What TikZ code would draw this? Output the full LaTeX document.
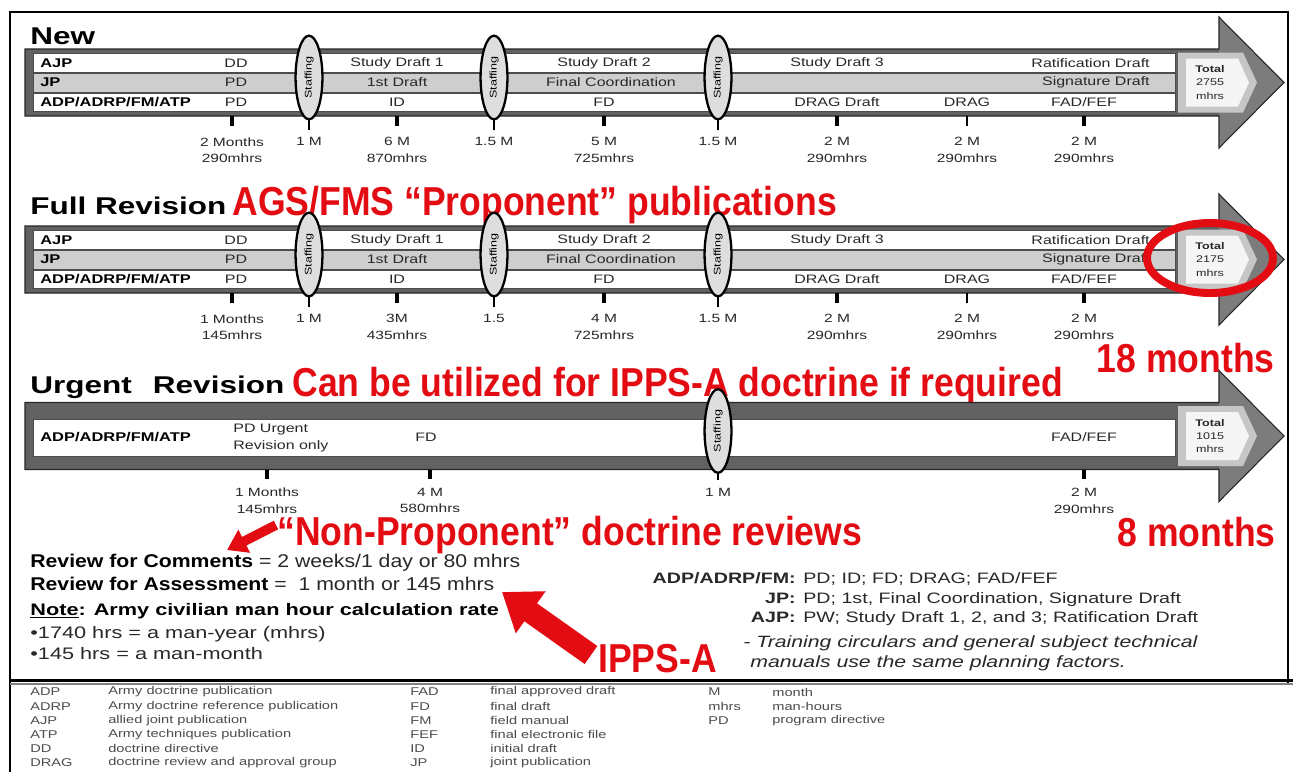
\documentclass[tikz,border=0pt]{standalone}
\usepackage{fontspec}
\setmainfont[FakeStretch=1.3]{Liberation Sans}
\newfontfamily\bodyfont[FakeStretch=1.15]{Liberation Sans}
\newfontfamily\redfont[FakeStretch=0.88]{Liberation Sans}
\usetikzlibrary{arrows.meta,shapes.geometric}
\definecolor{shaftgray}{RGB}{98,98,98}
\definecolor{headgray}{RGB}{124,124,124}
\definecolor{rowgray}{RGB}{206,206,206}
\definecolor{staffgray}{RGB}{222,222,222}
\definecolor{alertred}{RGB}{226,12,18}
\definecolor{inkgray}{RGB}{40,40,40}

\tikzset{
  rowbox/.style={draw=gray!60!black, line width=0.3pt},
  rowlabel/.style={anchor=west, inner sep=0pt, font=\bfseries\fontsize{7.2}{8}\selectfont},
  rowtext/.style={inner sep=0pt, text=inkgray, font=\fontsize{7}{9.6}\selectfont},
  staffnode/.style={ellipse, draw=black, line width=1.3pt, fill=staffgray, rotate=90,
    minimum width=47.6pt, minimum height=15.3pt, inner sep=0pt, font=\fontsize{5.5}{6}\selectfont},
  ticklabel/.style={anchor=north, align=center, inner sep=0pt, text=inkgray, font=\fontsize{6.8}{9.6}\selectfont},
  tickmark/.style={line width=2.2pt},
  thintick/.style={line width=0.6pt},
  totaltext/.style={align=center, inner sep=0pt, text=inkgray, font=\fontsize{5.5}{7.6}\selectfont},
  heading/.style={anchor=base west, inner sep=0pt, font=\bfseries\fontsize{13.8}{16}\selectfont},
  alert/.style={inner sep=0pt, text=alertred, font=\redfont\bfseries\fontsize{23}{26}\selectfont},
  bodytext/.style={anchor=base west, inner sep=0pt, text=inkgray, font=\bodyfont\fontsize{10.5}{12}\selectfont},
  notetext/.style={anchor=base west, inner sep=0pt, text=inkgray, font=\fontsize{9.5}{11}\selectfont},
  keytext/.style={inner sep=0pt, text=inkgray, font=\fontsize{8.6}{10}\selectfont},
  tctext/.style={anchor=base west, inner sep=0pt, text=inkgray, font=\itshape\fontsize{9.3}{11}\selectfont},
  legab/.style={anchor=west, inner sep=0pt, text=black!70, font=\fontsize{6.4}{7}\selectfont},
}

% arrow shaft plus head, centred on a given row
\newcommand{\phasebar}[1]{%
  \fill[headgray] (25,{#1-33.5}) -- (1219,{#1-33.5}) -- (1219,{#1-65.5}) -- (1284,#1)
    -- (1219,{#1+65.5}) -- (1219,{#1+33.5}) -- (25,{#1+33.5}) -- cycle;
  \fill[shaftgray] (25,{#1-33.5}) rectangle (1219,{#1+33.5});
  \draw[black!85, line width=0.6pt]
    (25,{#1-33.5}) -- (1219,{#1-33.5}) -- (1219,{#1-65.5}) -- (1284,#1)
    -- (1219,{#1+65.5}) -- (1219,{#1+33.5}) -- (25,{#1+33.5}) -- cycle;}
% three document rows inside a shaft
\newcommand{\threerows}[1]{%
  \filldraw[rowbox, fill=white] (33,{#1-29}) rectangle (1175,{#1-10.5});
  \filldraw[rowbox, fill=rowgray] (33,{#1-9.5}) rectangle (1175,{#1+9.5});
  \filldraw[rowbox, fill=white] (33,{#1+10.5}) rectangle (1175,{#1+29});}
% total man-hours tag at the arrow head
\newcommand{\totalbox}[3]{%
  \fill[gray!45] (1178,{#2-30}) -- (1243,{#2-30}) -- (1257,#2) -- (1243,{#2+30}) -- (1178,{#2+30}) -- cycle;
  \fill[gray!8] (1186,{#2-24}) -- (1238,{#2-24}) -- (1249,#2) -- (1238,{#2+24}) -- (1186,{#2+24}) -- cycle;
  \node[totaltext] (#1) at (1210,#2) {\textbf{Total}\\#3\\mhrs};}

\begin{document}
\begin{tikzpicture}[x=0.02cm, y=-0.02cm]
\useasboundingbox (0,0) rectangle (1293,772);
\fill[white] (0,0) rectangle (1293,772);

% outer frame and legend divider
\draw[line width=1pt] (10,772) -- (10,12) -- (1288,12) -- (1288,684);
\draw[line width=1.2pt] (10,680.5) -- (1293,680.5);
\draw[gray, line width=0.6pt] (10,684) -- (1293,684);

% ---------- New ----------
\node[heading] (new) at (30,44) {New};
\phasebar{82.5}
\threerows{82.5}
\totalbox{tot1}{82.5}{2755}
\node[rowlabel] (r1a) at (40,63) {AJP};
\node[rowlabel] (r1b) at (40,82.5) {JP};
\node[rowlabel] (r1c) at (40,102) {ADP/ADRP/FM/ATP};
\foreach \x/\t [count=\i] in {236/DD, 397/Study Draft 1, 604/Study Draft 2, 837/Study Draft 3}
  \node[rowtext] (a1\i) at (\x,63) {\t};
\node[rowtext, anchor=east] (a1r) at (1150,63) {Ratification Draft};
\foreach \x/\t [count=\i] in {236/PD, 397/1st Draft, 611/Final Coordination}
  \node[rowtext] (b1\i) at (\x,82.5) {\t};
\node[rowtext, anchor=east] (b1r) at (1150,82.5) {Signature Draft};
\foreach \x/\t [count=\i] in {236/PD, 397/ID, 604/FD, 837/DRAG Draft, 967/DRAG, 1084/{FAD/FEF}}
  \node[rowtext] (c1\i) at (\x,102) {\t};
% staffing stops
\foreach \x/\t [count=\i] in {309/1 M, 494/1.5 M, 718/1.5 M} {
  \node[staffnode] (s1\i) at (\x,77.5) {Staffing};
  \node[ticklabel] (sl1\i) at (\x,137) {\t};
  \draw[thintick, shorten >=4pt] (s1\i.west) -- (sl1\i.north);
}
% durations
\foreach \x/\t [count=\i] in {232/2 Months\\290mhrs, 397/6 M\\870mhrs, 604/5 M\\725mhrs,
    837/2 M\\290mhrs, 1084/2 M\\290mhrs} {
  \node[ticklabel] (d1\i) at (\x,137) {\t};
  \draw[tickmark] (d1\i.north) ++(0,-21) -- ++(0,10);
}
\node[ticklabel] (d1g) at (967,137) {2 M\\290mhrs};
\draw[thintick] (d1g.north) ++(0,-21) -- ++(0,10);

% ---------- Full Revision ----------
\node[heading] (full) at (30,214) {Full Revision};
\node[alert, anchor=base west] (prop) at (232,215) {AGS/FMS “Proponent” publications};
\phasebar{259.5}
\threerows{259.5}
\totalbox{tot2}{259.5}{2175}
\node[rowlabel] (r2a) at (40,240) {AJP};
\node[rowlabel] (r2b) at (40,259.5) {JP};
\node[rowlabel] (r2c) at (40,279) {ADP/ADRP/FM/ATP};
\foreach \x/\t [count=\i] in {236/DD, 397/Study Draft 1, 604/Study Draft 2, 837/Study Draft 3}
  \node[rowtext] (a2\i) at (\x,240) {\t};
\node[rowtext, anchor=east] (a2r) at (1150,240) {Ratification Draft};
\foreach \x/\t [count=\i] in {236/PD, 397/1st Draft, 611/Final Coordination}
  \node[rowtext] (b2\i) at (\x,259.5) {\t};
\node[rowtext, anchor=east] (b2r) at (1150,259.5) {Signature Draft};
\foreach \x/\t [count=\i] in {236/PD, 397/ID, 604/FD, 837/DRAG Draft, 967/DRAG, 1084/{FAD/FEF}}
  \node[rowtext] (c2\i) at (\x,279) {\t};
\foreach \x/\t [count=\i] in {309/1 M, 494/1.5, 718/1.5 M} {
  \node[staffnode] (s2\i) at (\x,254.5) {Staffing};
  \node[ticklabel] (sl2\i) at (\x,314) {\t};
  \draw[thintick, shorten >=4pt] (s2\i.west) -- (sl2\i.north);
}
\foreach \x/\t [count=\i] in {232/1 Months\\145mhrs, 397/3M\\435mhrs, 604/4 M\\725mhrs,
    837/2 M\\290mhrs, 1084/2 M\\290mhrs} {
  \node[ticklabel] (d2\i) at (\x,314) {\t};
  \draw[tickmark] (d2\i.north) ++(0,-21) -- ++(0,10);
}
\node[ticklabel] (d2g) at (967,314) {2 M\\290mhrs};
\draw[thintick] (d2g.north) ++(0,-21) -- ++(0,10);
% highlighted total
\draw[alertred, line width=4.5pt] (1210,258) ellipse [x radius=63, y radius=35];
\node[alert, anchor=base east] (m18) at (1275,372) {18 months};

% ---------- Urgent Revision ----------
\node[heading] (urgent) at (30,393) {Urgent\hspace{7pt} Revision};
\node[alert, anchor=base west] (ipps) at (292,396) {Can be utilized for IPPS-A doctrine if required};
\phasebar{436}
\filldraw[rowbox, fill=white] (33,419) rectangle (1175,456);
\totalbox{tot3}{436}{1015}
\node[rowlabel] (r3c) at (40,437.5) {ADP/ADRP/FM/ATP};
\node[rowtext, anchor=west, align=left] (pdu) at (233,438) {PD Urgent\\Revision only};
\node[rowtext] (fd3) at (426,437.5) {FD};
\node[rowtext] (fad3) at (1084,437.5) {FAD/FEF};
\node[staffnode] (s31) at (718,431) {Staffing};
\node[ticklabel] (sl31) at (718,487.5) {1 M};
\draw[thintick, shorten >=4pt] (s31.west) -- (sl31.north);
\foreach \x/\t [count=\i] in {267/1 Months\\145mhrs, 430/4 M\\580mhrs, 1084/2 M\\290mhrs} {
  \node[ticklabel] (d3\i) at (\x,487.5) {\t};
  \draw[tickmark] (d3\i.north) ++(0,-18) -- ++(0,9);
}
\node[alert, anchor=base east] (m8) at (1276,546) {8 months};

% ---------- reviews and notes ----------
\node[alert, anchor=base west] (nonprop) at (277,545) {“Non-Proponent” doctrine reviews};
\node[bodytext] (comments) at (30,567.5) {\textbf{\color{black}Review for Comments} = 2 weeks/1 day or 80 mhrs};
\node[bodytext] (assess) at (30,590.5) {\textbf{\color{black}Review for Assessment} =\ \ 1 month or 145 mhrs};
\node[notetext] (note) at (30,615) {\textbf{\color{black}\underline{Note}: Army civilian man hour calculation rate}};
\node[notetext] (yr) at (30,638) {•1740 hrs = a man-year (mhrs)};
\node[notetext] (mo) at (30,659) {•145 hrs = a man-month};

% pointers
\coordinate (np tail) at (276,525);
\coordinate (np tip) at (227,550);
\draw[alertred, line width=5.5pt, -{Triangle[width=14pt,length=11pt]}] (np tail) -- (np tip);
\node[alert, anchor=base west] (ippsa) at (598,672) {IPPS-A};
\coordinate (ia tail) at (591,655);
\coordinate (ia tip) at (502,592);
\draw[alertred, line width=12.5pt, -{Triangle[width=28pt,length=20pt]}] (ia tail) -- (ia tip);

% draft stages per publication type
\node[keytext, anchor=base east] (k1) at (796,583) {\textbf{ADP/ADRP/FM:}};
\node[keytext, anchor=base west] (v1) at (803,583) {PD; ID; FD; DRAG; FAD/FEF};
\node[keytext, anchor=base east] (k2) at (796,603) {\textbf{JP:}};
\node[keytext, anchor=base west] (v2) at (803,603) {PD; 1st, Final Coordination, Signature Draft};
\node[keytext, anchor=base east] (k3) at (796,622) {\textbf{AJP:}};
\node[keytext, anchor=base west] (v3) at (803,622) {PW; Study Draft 1, 2, and 3; Ratification Draft};
\node[tctext] (tc1) at (743,647) {- Training circulars and general subject technical};
\node[tctext] (tc2) at (750,667) {manuals use the same planning factors.};

% abbreviations
\foreach \ab/\df [count=\i from 0] in {ADP/Army doctrine publication, ADRP/Army doctrine reference publication,
    AJP/allied joint publication, ATP/Army techniques publication, DD/doctrine directive,
    DRAG/doctrine review and approval group} {
  \node[legab] (la\i) at (30,{692+14.2*\i}) {\ab};
  \node[legab] (ld\i) at (108,{692+14.2*\i}) {\df};
}
\foreach \ab/\df [count=\i from 0] in {FAD/final approved draft, FD/final draft, FM/field manual,
    FEF/final electronic file, ID/initial draft, JP/joint publication} {
  \node[legab] (lb\i) at (410,{692+14.2*\i}) {\ab};
  \node[legab] (le\i) at (490,{692+14.2*\i}) {\df};
}
\foreach \ab/\df [count=\i from 0] in {M/month, mhrs/man-hours, PD/program directive} {
  \node[legab] (lc\i) at (708,{692+14.2*\i}) {\ab};
  \node[legab] (lf\i) at (772,{692+14.2*\i}) {\df};
}
\end{tikzpicture}
\end{document}
